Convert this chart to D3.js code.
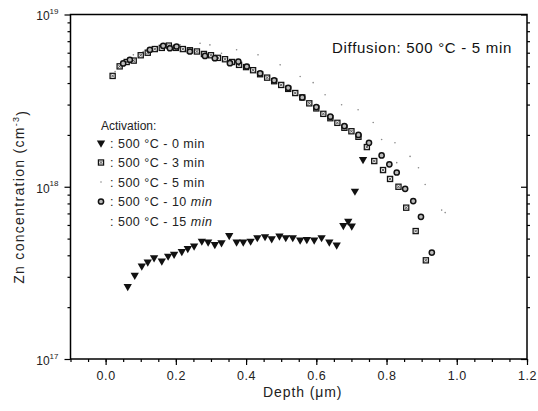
<!DOCTYPE html>
<html>
<head>
<meta charset="utf-8">
<script src="https://cdn.jsdelivr.net/npm/d3@7"></script>
<style>
  body { margin: 0; background: #fff; }
  svg { font-family: Arial, "Liberation Sans", sans-serif; }
</style>
</head>
<body>
<div id="chart"></div>
<script>
// tick values
const xTicks = [0.0, 0.2, 0.4, 0.6, 0.8, 1.0, 1.2]
const yDecades = [17, 18, 19]

// legend
const legendTitle = 'Activation:'
const legendLabels = ['0 min', '3 min', '5 min', '10 min', '15 min']

// depth (um), Zn concentration (cm^-3)
const act0min = [
  [0.063, 2.64e17], [0.083, 3.07e17], [0.103, 3.47e17], [0.120, 3.66e17], [0.138, 3.88e17],
  [0.160, 3.71e17], [0.178, 3.96e17], [0.195, 4.06e17], [0.217, 4.21e17], [0.234, 4.38e17],
  [0.252, 4.53e17], [0.274, 4.84e17], [0.292, 4.78e17], [0.311, 4.63e17], [0.330, 4.74e17],
  [0.352, 5.22e17], [0.373, 4.78e17], [0.392, 4.78e17], [0.413, 4.84e17], [0.432, 5.07e17],
  [0.454, 5.14e17], [0.473, 5.0e17], [0.495, 5.18e17], [0.513, 5.07e17], [0.533, 5.07e17],
  [0.554, 4.91e17], [0.573, 4.95e17], [0.594, 4.91e17], [0.615, 5.07e17], [0.637, 4.78e17],
  [0.658, 4.59e17], [0.677, 5.97e17], [0.691, 6.32e17], [0.701, 5.92e17], [0.710, 9.44e17],
  [0.733, 1.44e18],
]

const act3min = [
  [0.02, 4.4e18], [0.04, 5.0e18], [0.06, 5.3e18], [0.08, 5.4e18], [0.10, 5.8e18],
  [0.12, 6.0e18], [0.14, 6.3e18], [0.16, 6.4e18], [0.18, 6.6e18], [0.20, 6.4e18],
  [0.22, 6.3e18], [0.24, 6.2e18], [0.26, 6.1e18], [0.28, 5.9e18], [0.30, 5.8e18],
  [0.32, 5.6e18], [0.34, 5.5e18], [0.36, 5.3e18], [0.38, 5.1e18], [0.40, 4.95e18],
  [0.42, 4.75e18], [0.44, 4.5e18], [0.46, 4.3e18], [0.48, 4.1e18], [0.50, 3.9e18],
  [0.52, 3.7e18], [0.54, 3.5e18], [0.56, 3.3e18], [0.58, 3.05e18], [0.60, 2.85e18],
  [0.62, 2.65e18], [0.64, 2.5e18], [0.66, 2.35e18], [0.68, 2.2e18], [0.70, 2.1e18],
  [0.72, 1.95e18], [0.744, 1.7e18], [0.765, 1.41e18], [0.79, 1.25e18], [0.810, 1.11e18],
  [0.834, 1.0e18], [0.856, 7.56e17], [0.883, 5.53e17], [0.912, 3.74e17],
]

const act5min = [
  [0.027, 4.67e18], [0.079, 5.83e18], [0.107, 6.1e18], [0.140, 6.52e18], [0.174, 6.66e18],
  [0.212, 6.66e18], [0.269, 6.81e18], [0.297, 6.66e18], [0.330, 5.96e18], [0.373, 6.24e18],
  [0.434, 5.83e18], [0.497, 5.1e18], [0.554, 4.37e18], [0.591, 4.02e18], [0.625, 3.42e18],
  [0.672, 2.99e18], [0.719, 2.8e18], [0.762, 2.36e18], [0.786, 1.88e18], [0.824, 1.8e18],
  [0.829, 1.38e18], [0.867, 1.5e18], [0.891, 1.29e18], [0.910, 1.03e18], [0.957, 7.32e17],
  [0.967, 7.08e17],
]

const act10min = [
  [0.050, 5.2e18], [0.069, 5.46e18], [0.126, 6.24e18], [0.164, 6.58e18], [0.183, 6.37e18],
  [0.202, 6.52e18], [0.240, 6.1e18], [0.283, 5.75e18], [0.311, 5.58e18], [0.354, 5.22e18],
  [0.378, 5.33e18], [0.402, 4.99e18], [0.44, 4.55e18], [0.48, 4.15e18], [0.52, 3.75e18],
  [0.56, 3.3e18], [0.60, 2.9e18], [0.64, 2.55e18], [0.68, 2.25e18], [0.72, 2.0e18],
  [0.75, 1.8e18], [0.786, 1.52e18], [0.808, 1.35e18], [0.829, 1.21e18], [0.853, 9.73e17],
  [0.876, 8.26e17], [0.898, 6.69e17], [0.929, 4.15e17],
]

const act15min = []

const width = 538
const height = 411
const margin = { top: 14.5, right: 11, bottom: 52, left: 70.5 }
const innerW = width - margin.left - margin.right
const innerH = height - margin.top - margin.bottom

const svg = d3.select('#chart').append('svg').attr('width', width).attr('height', height)
const g = svg.append('g').attr('transform', `translate(${margin.left},${margin.top})`)

const x = d3.scaleLinear().domain([-0.1, 1.2]).range([0, innerW])
const y = d3.scaleLog().domain([1e17, 1e19]).range([innerH, 0])

// minor tick values
const xMinor = d3.range(-0.1, 1.2001, 0.05).map((v) => +v.toFixed(2))
const yMinor = []
for (const d of [17, 18]) for (let k = 2; k <= 9; k++) yMinor.push(k * Math.pow(10, d))
const yMajor = yDecades.map((d) => Math.pow(10, d))

function styleAxis(sel) {
  sel.select('.domain').remove()
  sel.selectAll('line').attr('stroke', '#000').attr('stroke-width', 1.2)
}

// bottom axis
g.append('g').attr('transform', `translate(0,${innerH})`)
  .call(d3.axisBottom(x).tickValues(xMinor).tickSize(3).tickFormat(''))
  .call(styleAxis)
const xAxis = g.append('g').attr('transform', `translate(0,${innerH})`)
  .call(d3.axisBottom(x).tickValues(xTicks).tickSize(6).tickPadding(6).tickFormat(d3.format('.1f')))
  .call(styleAxis)
xAxis.selectAll('text').attr('font-size', 12.5).attr('fill', '#222')
  .attr('letter-spacing', 0.6).attr('font-family', 'Arial, "Liberation Sans", sans-serif')

// left axis
g.append('g').call(d3.axisLeft(y).tickValues(yMinor).tickSize(3).tickFormat('')).call(styleAxis)
const yAxis = g.append('g').call(d3.axisLeft(y).tickValues(yMajor).tickSize(6).tickFormat('')).call(styleAxis)
yAxis.selectAll('.tick').each(function (d) {
  const t = d3.select(this).append('text')
    .attr('x', -12).attr('dy', '0.45em').attr('text-anchor', 'end')
    .attr('fill', '#222').attr('font-size', 12)
    .attr('font-family', 'Arial, "Liberation Sans", sans-serif')
  t.append('tspan').text('10')
  t.append('tspan').attr('font-size', 8).attr('dy', '-0.8em').text(Math.round(Math.log10(d)))
})

// right axis, ticks inward
g.append('g').attr('transform', `translate(${innerW},0)`)
  .call(d3.axisLeft(y).tickValues(yMinor).tickSize(3).tickFormat('')).call(styleAxis)
  .selectAll('line').attr('x2', 3).attr('x1', 0)
g.append('g').attr('transform', `translate(${innerW},0)`)
  .call(d3.axisRight(y).tickValues(yMajor).tickSize(-6).tickFormat('')).call(styleAxis)

// frame
g.append('rect').attr('width', innerW).attr('height', innerH)
  .attr('fill', 'none').attr('stroke', '#000').attr('stroke-width', 1.5)

// markers
const triDown = d3.symbol().type(d3.symbolTriangle).size(30)

function drawTriangles(sel, data) {
  sel.selectAll('path.tri').data(data).join('path').attr('class', 'tri')
    .attr('d', triDown)
    .attr('transform', (d) => `translate(${x(d[0])},${y(d[1])}) rotate(180)`)
    .attr('fill', '#111')
}
function drawSquares(sel, data) {
  const s = sel.selectAll('g.sq').data(data).join('g').attr('class', 'sq')
    .attr('transform', (d) => `translate(${x(d[0])},${y(d[1])})`)
  s.append('rect').attr('x', -2.6).attr('y', -2.6).attr('width', 5.2).attr('height', 5.2)
    .attr('fill', '#e4e4e4').attr('stroke', '#111').attr('stroke-width', 1.2)
  s.append('path').attr('d', 'M-1.5,-1.5L1.5,1.5M-1.5,1.5L1.5,-1.5').attr('stroke', '#444').attr('stroke-width', 0.8)
}
function drawDots(sel, data) {
  sel.selectAll('circle.dot').data(data).join('circle').attr('class', 'dot')
    .attr('cx', (d) => x(d[0])).attr('cy', (d) => y(d[1])).attr('r', 0.8).attr('fill', '#888')
}
function drawCircles(sel, data) {
  sel.selectAll('circle.cir').data(data).join('circle').attr('class', 'cir')
    .attr('cx', (d) => x(d[0])).attr('cy', (d) => y(d[1])).attr('r', 2.6)
    .attr('fill', '#bbb').attr('stroke', '#111').attr('stroke-width', 1.5)
}

const plot = g.append('g')
drawDots(plot.append('g'), act5min)
drawSquares(plot.append('g'), act3min)
drawCircles(plot.append('g'), act10min)
drawTriangles(plot.append('g'), act0min)
drawDots(plot.append('g'), act15min)

// legend
const leg = svg.append('g').attr('font-size', 12.5).attr('fill', '#222')
leg.append('text').attr('x', 101).attr('y', 130).attr('font-size', 12).text(legendTitle)
const drawers = [drawTriangles, drawSquares, drawDots, drawCircles, null]
legendLabels.forEach((lab, i) => {
  const cy = 143 + i * 19.5
  const row = leg.append('g')
  const t = row.append('text').attr('x', 110).attr('y', cy + 4.5).attr('letter-spacing', 0.5)
  t.append('tspan').text(': 500 °C - ')
  const parts = lab.split(' ')
  t.append('tspan').text(parts[0] + ' ')
  t.append('tspan').attr('font-style', i >= 3 ? 'italic' : 'normal').text(parts[1])
  if (drawers[i]) {
    const mg = row.append('g').attr('transform', `translate(${margin.left},${margin.top})`)
    drawers[i](mg, [[x.invert(101 - margin.left), y.invert(cy - margin.top)]])
  }
})

// annotation
svg.append('text').attr('x', 512).attr('y', 53).attr('text-anchor', 'end')
  .attr('font-size', 15).attr('letter-spacing', 0.7).attr('fill', '#111').text('Diffusion: 500 °C - 5 min')

// axis labels
svg.append('text').attr('x', margin.left + innerW / 2 + 4).attr('y', 397).attr('text-anchor', 'middle')
  .attr('font-size', 14).attr('letter-spacing', 0.9).attr('fill', '#222').text('Depth (μm)')
const yl = svg.append('text').attr('text-anchor', 'middle')
  .attr('transform', `translate(24,${margin.top + innerH / 2 + 10}) rotate(-90)`)
  .attr('font-size', 14).attr('letter-spacing', 1.3).attr('fill', '#222')
yl.append('tspan').text('Zn concentration (cm')
yl.append('tspan').attr('font-size', 9).attr('dy', '-0.6em').text('-3')
yl.append('tspan').attr('dy', '0.6em').text(')')
</script>
</body>
</html>
